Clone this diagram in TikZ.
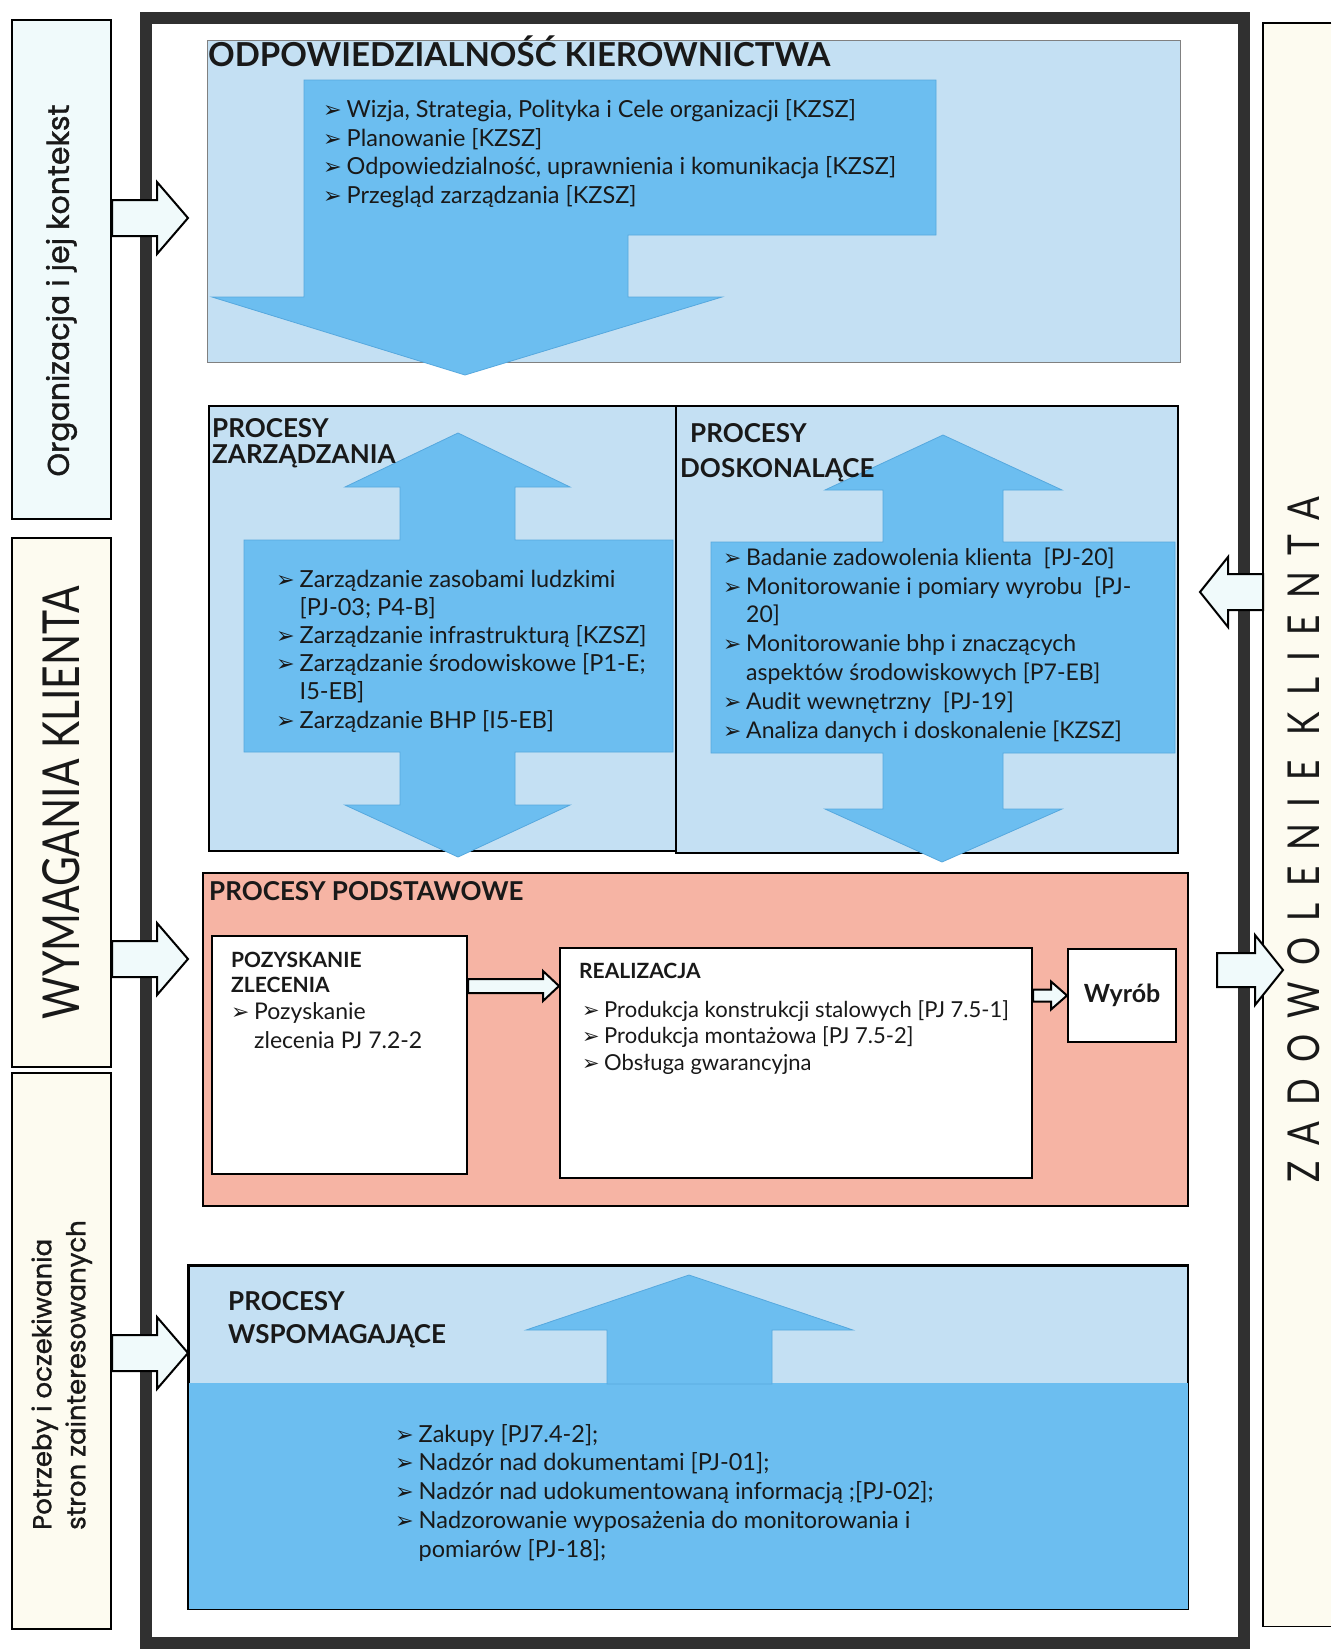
\documentclass[tikz,border=0pt]{standalone}
\usepackage{graphicx}
\usepackage{fontspec}
\setmainfont{Lato}
\newfontfamily\symfont{DejaVu Sans}
\newfontfamily\geofont[FakeBold=1.2]{Poppins}
\newfontfamily\narrowfont[FakeStretch=0.8]{Lato}
\newfontfamily\spacedfont[FakeStretch=0.8,LetterSpace=37]{Lato}
\usetikzlibrary{calc}
\definecolor{bgblue}{RGB}{196,224,243}
\definecolor{arrowblue}{RGB}{108,190,240}
\definecolor{arrowedge}{RGB}{86,168,222}
\definecolor{salmon}{RGB}{246,180,164}
\definecolor{palecyan}{RGB}{240,250,251}
\definecolor{cream}{RGB}{253,251,240}
\definecolor{framegray}{RGB}{48,48,48}
\definecolor{textgray}{RGB}{25,25,25}
\newcommand{\bul}{\makebox[1.0em][l]{\symfont\scalebox{0.95}{\char"27A2}}}
\newcommand{\ind}{\hspace*{1.0em}}
\tikzstyle{sidebox} = [rectangle, draw, line width=2pt, anchor=north west, inner sep=0pt, text=textgray]
\tikzstyle{procbox} = [rectangle, draw, line width=2pt, fill=bgblue, anchor=north west, inner sep=0pt]
\tikzstyle{whitebox} = [rectangle, draw, line width=2pt, fill=white, anchor=north west, inner sep=0pt]
\tikzstyle{title} = [anchor=base west, inner sep=0pt, align=left, text=textgray, font=\bfseries\fontsize{26}{26}\selectfont]
\tikzstyle{list} = [anchor=base west, inner sep=0pt, align=left, text=textgray, font=\fontsize{23.5}{28.5}\selectfont]
\tikzstyle{bigarrow} = [fill=arrowblue, draw=arrowedge, line width=0.8pt]
\tikzstyle{fat} = [draw, fill=palecyan, line width=2pt, line join=miter]
\tikzstyle{frameline} = [draw=framegray, line width=12pt]
\newcommand{\fatarrow}[5]{%
  \path [fat] let \p1=(#1), \p2=(#2), \n1={(\x2-\x1)/abs(\x2-\x1)} in
    (\x1,{\y2+#3pt}) -- ({\x2-(\n1)*#5pt},{\y2+#3pt}) -- ({\x2-(\n1)*#5pt},{\y2+#4pt})
    -- (\x2,\y2) -- ({\x2-(\n1)*#5pt},{\y2-#4pt}) -- ({\x2-(\n1)*#5pt},{\y2-#3pt})
    -- (\x1,{\y2-#3pt}) -- cycle;}
\begin{document}
\begin{tikzpicture}[x=1pt,y=-1pt]
\useasboundingbox (0,0) rectangle (1331,1652);
\fill [white] (0,0) rectangle (1331,1652);

% outer columns
\node [sidebox, fill=palecyan, minimum width=99, minimum height=499] (org) at (11,19) {\rotatebox{90}{\geofont\fontsize{30}{30}\selectfont\hspace*{-42pt}Organizacja i jej kontekst}};
\node [sidebox, fill=cream, minimum width=99, minimum height=529] (wym) at (11,537) {\rotatebox{90}{\narrowfont\fontsize{51}{51}\selectfont WYMAGANIA KLIENTA}};
\node [sidebox, fill=cream, minimum width=99, minimum height=556] (pot) at (11,1072) {\rotatebox{90}{\geofont\fontsize{26}{34}\selectfont\hspace*{-48pt}\begin{tabular}{@{}l@{}}Potrzeby i oczekiwania\\stron zainteresowanych\end{tabular}}};
\node [rectangle, fill=cream, anchor=north west, inner sep=0pt, minimum width=68, minimum height=1603] (zad) at (1263,23) {};
\draw [line width=1.5pt] (zad.north east) -- (zad.north west) -- (zad.south west) -- (zad.south east);
\node [inner sep=0pt, text=textgray] (zadt) at (1304,840) {\rotatebox{90}{\spacedfont\fontsize{44}{44}\selectfont ZADOWOLENIE KLIENTA}};

\draw [frameline] (146,18) rectangle (1244,1643);

% management responsibility
\node [procbox, line width=1.2pt, draw=gray, minimum width=973, minimum height=322] (odp) at (207,40) {};
\path [bigarrow] (304,80) -- (936,80) -- (936,235) -- (628,235) -- (628,297) -- (722,297) -- (465,375) -- (212,297) -- (304,297) -- cycle;
\node [title, font=\bfseries\fontsize{33}{33}\selectfont] (odpt) at (208,66) {ODPOWIEDZIALNOŚĆ KIEROWNICTWA};
\node [list] (odpl) at (323,203) {\bul Wizja, Strategia, Polityka i Cele organizacji [KZSZ]\\
\bul Planowanie [KZSZ]\\
\bul Odpowiedzialność, uprawnienia i komunikacja [KZSZ]\\
\bul Przegląd zarządzania [KZSZ]};

% management and improvement processes
\node [procbox, minimum width=467, minimum height=445] (zarz) at (208,405) {};
\node [procbox, minimum width=502, minimum height=447] (dosk) at (675,405) {};
\path [bigarrow] (458,433) -- (570,487) -- (515,487) -- (515,540) -- (673,540) -- (673,752) -- (515,752) -- (515,805) -- (570,805) -- (458,857) -- (345,805) -- (400,805) -- (400,752) -- (244,752) -- (244,540) -- (400,540) -- (400,487) -- (345,487) -- cycle;
\path [bigarrow] (943,435) -- (1062,490) -- (1003,490) -- (1003,542) -- (1175,542) -- (1175,753) -- (1003,753) -- (1003,809) -- (1062,809) -- (942,862) -- (825,809) -- (883,809) -- (883,753) -- (711,753) -- (711,542) -- (883,542) -- (883,490) -- (825,490) -- cycle;
\node [title] (zarzt) at (212,463) {PROCESY\\ZARZĄDZANIA};
\node [title, font=\bfseries\fontsize{26}{35}\selectfont] (doskt) at (680,477) {\hspace*{10pt}PROCESY\\DOSKONALĄCE};
\node [list, font=\fontsize{23.5}{28.2}\selectfont] (zarzl) at (276,728) {\bul Zarządzanie zasobami ludzkimi\\
\ind [PJ-03; P4-B]\\
\bul Zarządzanie infrastrukturą [KZSZ]\\
\bul Zarządzanie środowiskowe [P1-E;\\
\ind I5-EB]\\
\bul Zarządzanie BHP [I5-EB]};
\node [list, font=\fontsize{23}{28.8}\selectfont] (doskl) at (723,738) {\bul Badanie zadowolenia klienta\ \ [PJ-20]\\
\bul Monitorowanie i pomiary wyrobu\ \ [PJ-\\
\ind 20]\\
\bul Monitorowanie bhp i znaczących\\
\ind aspektów środowiskowych [P7-EB]\\
\bul Audit wewnętrzny\ \ [PJ-19]\\
\bul Analiza danych i doskonalenie [KZSZ]};

% core processes
\node [procbox, fill=salmon, line width=1.5pt, minimum width=985, minimum height=333] (podst) at (202,872) {};
\node [title] (podstt) at (209,900) {PROCESY PODSTAWOWE};
\node [whitebox, minimum width=255, minimum height=238] (poz) at (211,935) {};
\node [whitebox, minimum width=472, minimum height=230] (real) at (559,947) {};
\node [whitebox, anchor=center, minimum width=108, minimum height=93, text=textgray, font=\bfseries\fontsize{25}{25}\selectfont] (wyrob) at (1122,995.5) {Wyrób};
\node [title, font=\bfseries\fontsize{21}{25}\selectfont] (pozt) at (231,992) {POZYSKANIE\\ZLECENIA};
\node [list, font=\fontsize{23}{29}\selectfont] (pozl) at (231,1048) {\bul Pozyskanie\\
\ind zlecenia PJ 7.2-2};
\node [title, font=\bfseries\fontsize{21}{21}\selectfont] (realt) at (579,978) {REALIZACJA};
\node [list, font=\fontsize{22}{26.5}\selectfont] (reall) at (582,1070) {\bul Produkcja konstrukcji stalowych [PJ 7.5-1]\\
\bul Produkcja montażowa [PJ 7.5-2]\\
\bul Obsługa gwarancyjna};
\coordinate (realin) at (real.west |- 0,986);
\fatarrow{poz.east |- realin}{realin}{7}{15}{16}
\fatarrow{real.east |- wyrob.west}{wyrob.west}{6}{14}{16}

% supporting processes
\node [procbox, line width=1.5pt, minimum width=999, minimum height=343] (wsp) at (188,1265) {};
\fill [arrowblue] (wsp.west |- 0,1383) rectangle (wsp.south east);
\draw [line width=1.5pt] (wsp.north west) rectangle (wsp.south east);
\path [bigarrow] (689,1275) -- (853,1330) -- (772,1330) -- (772,1384) -- (607,1384) -- (607,1330) -- (526,1330) -- cycle;
\node [title, font=\bfseries\fontsize{26}{33}\selectfont] (wspt) at (228,1343) {PROCESY\\WSPOMAGAJĄCE};
\node [list, font=\fontsize{23.5}{28.7}\selectfont] (wspl) at (395,1557) {\bul Zakupy [PJ7.4-2];\\
\bul Nadzór nad dokumentami [PJ-01];\\
\bul Nadzór nad udokumentowaną informacją ;[PJ-02];\\
\bul Nadzorowanie wyposażenia do monitorowania i\\
\ind pomiarów [PJ-18];};

% inputs and outputs
\coordinate (orgin) at (188,218);
\coordinate (wymin) at (188,959);
\coordinate (potin) at (188,1353);
\coordinate (zadback) at (1200,592);
\coordinate (zadfrom) at (1217,970);
\coordinate (zadin) at (1283,970);
\fatarrow{org.east |- orgin}{orgin}{18}{36}{31}
\fatarrow{wym.east |- wymin}{wymin}{18}{36}{31}
\fatarrow{pot.east |- potin}{potin}{18}{36}{31}
\fatarrow{zad.west |- zadback}{zadback}{18}{35}{28}
\fatarrow{zadfrom}{zadin}{17}{35}{28}
\end{tikzpicture}
\end{document}
